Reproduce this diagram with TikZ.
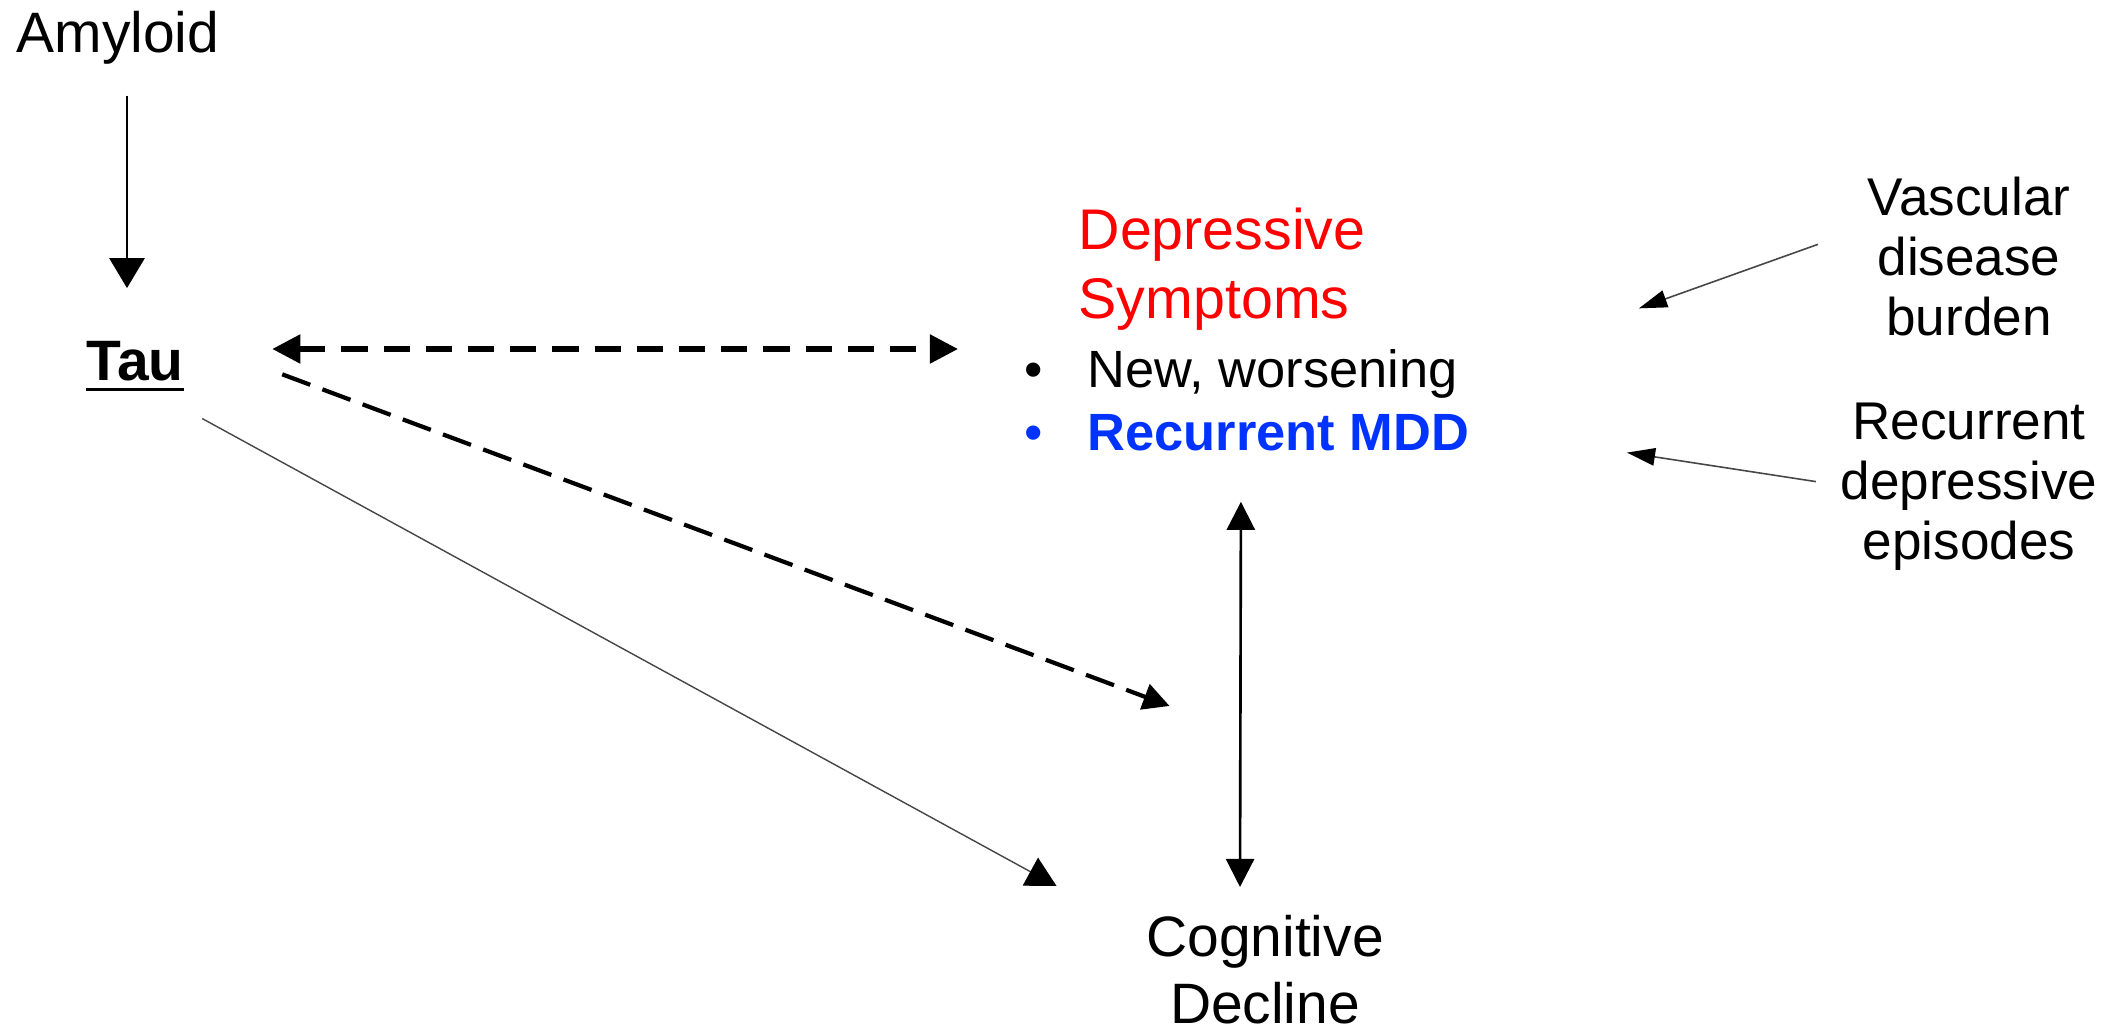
\documentclass[tikz,border=0pt]{standalone}
\usepackage{fontspec}
\setmainfont{Liberation Sans}
\usepackage{xcolor}
\usetikzlibrary{arrows.meta}

\definecolor{deprred}{RGB}{255,0,0}
\definecolor{mddblue}{RGB}{0,51,255}
\definecolor{linegray}{RGB}{70,70,70}

\newcommand{\ultext}[1]{\sbox0{#1}\rlap{\usebox0}\rule[-2.8pt]{\wd0}{0.9pt}}
\newcommand{\bul}{\makebox[0.63cm][l]{\textbullet}}

\begin{document}
\begin{tikzpicture}[x=0.01cm, y=-0.01cm,
	bigtext/.style={inner sep=0, font=\fontsize{16.2}{19}\selectfont},
	sidetext/.style={inner sep=0, align=center, font=\fontsize{15.1}{17.1}\selectfont},
	solidarr/.style={-{Triangle[length=8.5pt,width=10pt]}, line width=0.6pt},
	twoway/.style={{Triangle[length=8pt,width=8pt]}-{Triangle[length=8pt,width=8pt]}, line width=0.75pt},
	dashtwoway/.style={{Triangle[length=8pt,width=8pt]}-{Triangle[length=8pt,width=8pt]}, line width=1.5pt, dash pattern=on 7.5pt off 4.5pt},
	dasharr/.style={-{Triangle[length=7.5pt,width=7.5pt]}, line width=1.2pt, dash pattern=on 8.5pt off 3.7pt},
	grayarr/.style={-{Triangle[length=8.5pt,width=9pt,color=black]}, line width=0.4pt, linegray},
	thinarr/.style={-{Triangle[length=8pt,width=5pt,color=black]}, line width=0.45pt, linegray}]
	\useasboundingbox (0,0) rectangle (2121,1031);

	% left column
	\node[bigtext, anchor=base] (amyloid) at (118,53) {Amyloid};
	\node[bigtext, anchor=base] (tau) at (135,381) {\ultext{\textbf{Tau}}};

	% middle
	\node[bigtext, align=left, anchor=north west, text=deprred,
		font=\fontsize{16.3}{19.6}\selectfont] (dep) at (1078,207) {Depressive\\Symptoms};
	\node[inner sep=0, align=left, anchor=north west,
		font=\fontsize{14.9}{17.9}\selectfont] (deplist) at (1024,349)
		{\bul New, worsening\\\color{mddblue}\bul\textbf{Recurrent MDD}};
	\node[bigtext, align=center, anchor=north] (cog) at (1265,915) {Cognitive\\Decline};

	% right column
	\node[sidetext, anchor=north] (vasc) at (1969,176) {Vascular\\disease\\burden};
	\node[sidetext, anchor=north] (recur) at (1969,402) {Recurrent\\depressive\\episodes};

	% links
	\draw[solidarr, shorten <=0.3cm, shorten >=0.53cm] ([shift={(9,0)}]amyloid.south) -- ([shift={(-8,0)}]tau.north);
	\draw[dashtwoway, shorten <=0.88cm, shorten >=0.66cm] (tau.east |- deplist.north west) -- (deplist.north west);
	\draw[dasharr] ([shift={(98,8)}]tau.east) -- ([shift={(24,-209)}]cog.north west);
	\draw[grayarr] ([shift={(18,27)}]tau.south east) -- ([shift={(-89,-29)}]cog.north west);
	\draw[twoway] ([shift={(-6,50)}]deplist.south) -- ([shift={(-25,-28)}]cog.north);
	\draw[thinarr] ([shift={(-49,-12)}]vasc.west) -- ([shift={(-228,52)}]vasc.west);
	\draw[thinarr] ([shift={(-24,-5)}]recur.west) -- ([shift={(-213,-34)}]recur.west);
\end{tikzpicture}
\end{document}
